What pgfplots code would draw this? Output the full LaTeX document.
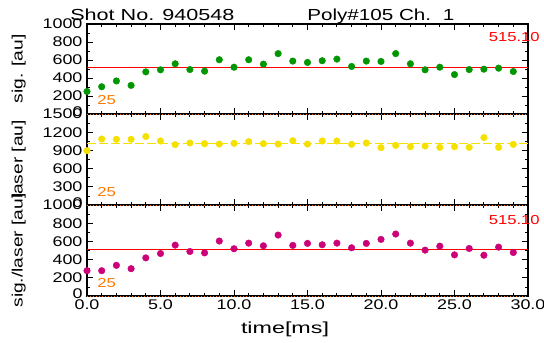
\documentclass[border=0pt]{standalone}
\usepackage{fontspec}
\setmainfont{Liberation Sans}
\usepackage{graphicx}
\usepackage{pgfplots}
\pgfplotsset{compat=1.18}
\newcommand{\W}[1]{\scalebox{1.28}[1]{#1}}
\definecolor{dotgreen}{RGB}{0,150,0}
\definecolor{dotyellow}{RGB}{245,225,0}
\definecolor{dotmag}{RGB}{204,0,119}
\definecolor{lblorange}{RGB}{255,120,0}
\definecolor{lblred}{RGB}{255,0,0}
\pgfplotsset{
  panel/.style={
    scale only axis, width=441pt,
    xmin=0, xmax=30,
    xtick={0,5,...,30}, minor x tick num=4,
    tick align=inside, tick pos=both,
    major tick length=6pt, minor tick length=3pt,
    every tick/.style={black, line width=0.8pt},
    axis line style={line width=1.2pt},
    tick label style={font=\fontsize{14}{15}\selectfont},
    yticklabel style={xshift=-1pt},
    ylabel style={at={(axis description cs:-0.155,0.5)}, anchor=center, rotate=0, font=\fontsize{15}{16}\selectfont},
    clip=false,
  },
  dots/.style={only marks, mark=*, mark size=3.3pt},
  zeroline/.style={lblorange, dash pattern=on 1pt off 2pt, line width=1pt},
}
\begin{document}
\begin{tikzpicture}
\useasboundingbox (0,-343pt) rectangle (544pt,0);
% ---------- panel 1
\begin{axis}[panel, at={(87pt,-24pt)}, anchor=north west, height=90pt,
  ymin=0, ymax=1000, ytick={0,200,...,1000}, minor y tick num=1,
  yticklabels={\raisebox{5pt}{\W{0}},\W{200},\W{400},\W{600},\W{800},\raisebox{-8pt}{\W{1000}}},
  xticklabels={}, ylabel={\W{sig. [au]}}]
\addplot[zeroline] coordinates {(0,0) (30,0)};
\addplot[lblred, line width=1.1pt] coordinates {(0,515.1) (30,515.1)};
\addplot[dots, dotgreen] coordinates {
(0,250) (1,303) (2,367) (3,318) (4,468) (5,491) (6,558) (7,494) (8,476) (9,603)
(10,520) (11,603) (12,554) (13,671) (14,588) (15,573) (16,592) (17,610) (18,528) (19,588)
(20,584) (21,671) (22,558) (23,491) (24,520) (25,438) (26,494) (27,498) (28,509) (29,472)};
\end{axis}
% ---------- panel 2
\begin{axis}[panel, at={(87pt,-114pt)}, anchor=north west, height=91pt,
  ymin=0, ymax=1500, ytick={0,300,...,1500}, minor y tick num=1,
  yticklabels={\raisebox{5pt}{\W{0}},\W{300},\W{600},\W{900},\W{1200},\raisebox{-8pt}{\W{1500}}},
  xticklabels={}, ylabel={\W{laser [au]}}]
\addplot[zeroline] coordinates {(0,0) (30,0)};
\addplot[zeroline] coordinates {(0,1500) (30,1500)};
\addplot[dotyellow, dash pattern=on 9pt off 3pt, line width=0.9pt] coordinates {(0,1020) (30,1020)};
\addplot[dots, dotyellow] coordinates {
(0,895) (1,1088) (2,1083) (3,1083) (4,1128) (5,1055) (6,995) (7,1022) (8,1011) (9,1005)
(10,1017) (11,1045) (12,1011) (13,1005) (14,1061) (15,1005) (16,1055) (17,1055) (18,1000) (19,1022)
(20,945) (21,983) (22,961) (23,972) (24,950) (25,961) (26,950) (27,1111) (28,950) (29,1000)};
\end{axis}
% ---------- panel 3
\begin{axis}[panel, at={(87pt,-205pt)}, anchor=north west, height=91pt,
  ymin=0, ymax=1000, ytick={0,200,...,1000}, minor y tick num=1,
  yticklabels={\raisebox{5pt}{\W{0}},\W{200},\W{400},\W{600},\W{800},\raisebox{-8pt}{\W{1000}}},
  xticklabels={\W{0.0},\W{5.0},\W{10.0},\W{15.0},\W{20.0},\W{25.0},\W{30.0}},
  ylabel={\W{sig./laser [au]}},
  xlabel={\resizebox{88pt}{\height}{time[ms]}}, xlabel style={at={(axis description cs:0.449,-0.37)}, anchor=center, font=\fontsize{16}{17}\selectfont}]
\addplot[zeroline] coordinates {(0,0) (30,0)};
\addplot[zeroline] coordinates {(0,1000) (30,1000)};
\addplot[lblred, line width=1.1pt] coordinates {(0,515.1) (30,515.1)};
\addplot[dots, dotmag] coordinates {
(0,278) (1,278) (2,337) (3,300) (4,419) (5,467) (6,559) (7,489) (8,474) (9,604)
(10,519) (11,581) (12,552) (13,670) (14,556) (15,578) (16,563) (17,581) (18,530) (19,578)
(20,622) (21,681) (22,581) (23,504) (24,548) (25,452) (26,522) (27,448) (28,537) (29,478)};
\end{axis}
% ---------- annotations
\begin{scope}[shift={(70pt,-20.5pt)}, xscale=1.35]
\node[anchor=base west, inner sep=0pt, transform shape, font=\fontsize{16}{17}\selectfont] at (0,0) {Shot No. 940548};
\end{scope}
\begin{scope}[shift={(307pt,-20.5pt)}, xscale=1.29]
\node[anchor=base west, inner sep=0pt, transform shape, font=\fontsize{16}{17}\selectfont] at (0,0) {Poly\#105 Ch.\hspace{9pt}1};
\end{scope}
\foreach \yy in {-100pt,-192pt,-283pt}{
\begin{scope}[shift={(97pt,\yy)}, xscale=1.28]
\node[lblorange, anchor=west, inner sep=0pt, transform shape, font=\fontsize{13}{14}\selectfont] at (0,0) {25};
\end{scope}}
\foreach \yy in {-37pt,-220pt}{
\begin{scope}[shift={(540pt,\yy)}, xscale=1.28]
\node[lblred, anchor=east, inner sep=0pt, transform shape, font=\fontsize{13}{14}\selectfont] at (0,0) {515.10};
\end{scope}}
\end{tikzpicture}
\end{document}
